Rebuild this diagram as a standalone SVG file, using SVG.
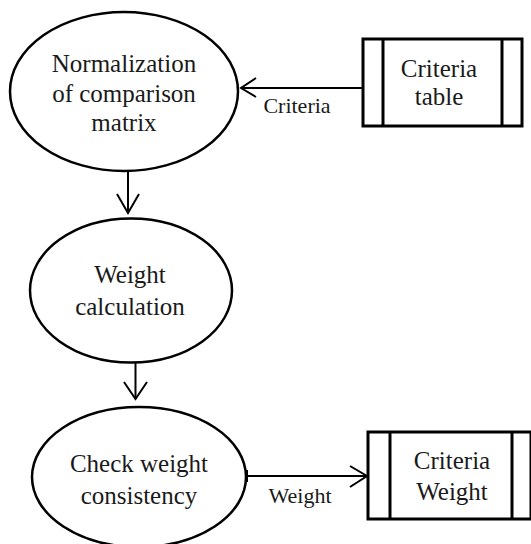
<svg xmlns="http://www.w3.org/2000/svg" width="531" height="544" viewBox="0 0 531 544">
<style>
.proc{fill:#fff;stroke:#000;stroke-width:2.5}
.store{fill:#fff;stroke:#000;stroke-width:3}
.t{font-family:'Liberation Serif','Times New Roman',Times,'DejaVu Serif',serif;font-size:25px;fill:#1a1a1a;text-anchor:middle}
.lbl{font-family:'Liberation Serif','Times New Roman',Times,'DejaVu Serif',serif;font-size:22px;fill:#1a1a1a;text-anchor:middle}
.conn{fill:none;stroke:#000;stroke-width:2}
</style>
<rect width="531" height="544" fill="#fff"/>
<g id="connectors">
<line class="conn" x1="362" y1="88" x2="241" y2="88"/>
<polyline class="conn" points="256,78 241,88 256,97"/>
<line class="conn" x1="128" y1="171" x2="128" y2="213"/>
<polyline class="conn" points="117,194 128,213 139,194"/>
<line class="conn" x1="135.5" y1="362" x2="135.5" y2="399"/>
<polyline class="conn" points="124,382 135.5,399 147,382"/>
<line class="conn" x1="247" y1="476" x2="367" y2="476"/>
<line class="conn" x1="247" y1="470" x2="247" y2="482"/>
<polyline class="conn" points="350,466 367,476 350,487"/>
<text class="lbl" x="297" y="113">Criteria</text>
<text class="lbl" x="300" y="503">Weight</text>
</g>
<g id="normalization">
<ellipse class="proc" cx="124" cy="91.5" rx="114" ry="79.5"/>
<text class="t" x="124" y="72">Normalization</text>
<text class="t" x="124" y="102">of comparison</text>
<text class="t" x="124" y="131">matrix</text>
</g>
<g id="criteria-table">
<rect class="store" x="363" y="39" width="159" height="87"/>
<line class="store" x1="383" y1="39" x2="383" y2="126"/>
<line class="store" x1="502" y1="39" x2="502" y2="126"/>
<text class="t" x="439" y="77">Criteria</text>
<text class="t" x="439" y="105">table</text>
</g>
<g id="weight-calculation">
<ellipse class="proc" cx="131" cy="290.5" rx="101" ry="72"/>
<text class="t" x="130" y="283">Weight</text>
<text class="t" x="130" y="315">calculation</text>
</g>
<g id="check-consistency">
<ellipse class="proc" cx="139" cy="477" rx="107" ry="70"/>
<text class="t" x="139" y="472">Check weight</text>
<text class="t" x="139" y="504">consistency</text>
</g>
<g id="criteria-weight">
<rect class="store" x="368" y="432" width="163" height="87"/>
<line class="store" x1="390" y1="432" x2="390" y2="519"/>
<line class="store" x1="512" y1="432" x2="512" y2="519"/>
<text class="t" x="452" y="469">Criteria</text>
<text class="t" x="452" y="500">Weight</text>
</g>
</svg>
